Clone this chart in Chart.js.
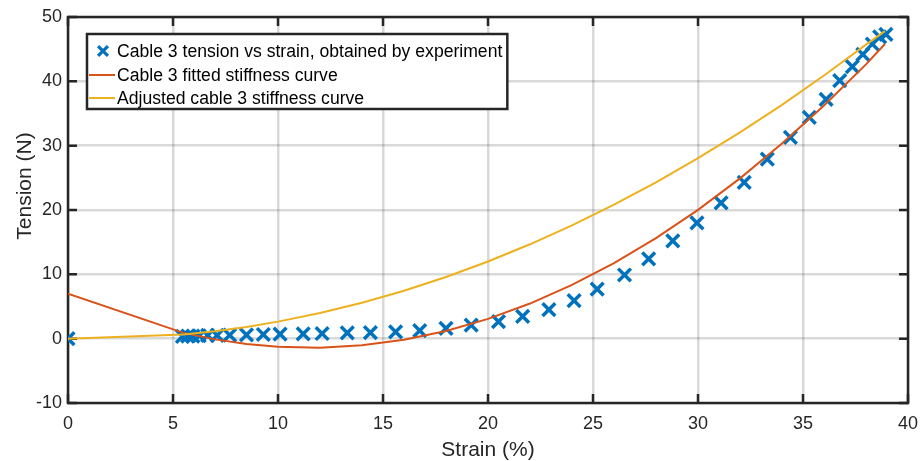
<!DOCTYPE html>
<html>
<head>
<meta charset="utf-8">
<script src="https://cdn.jsdelivr.net/npm/chart.js@4.4.1/dist/chart.umd.min.js"></script>
<style>
    html, body { margin: 0; padding: 0; background: #fff; }
    #wrap { width: 921px; height: 461px; }
</style>
</head>
<body>
<div id="wrap"><canvas id="tensionChart" width="921" height="461"></canvas></div>
<script>
// --- dados ---
const strainExp = [0, 5.45, 5.7, 5.95, 6.25, 6.65, 7.1, 7.7, 8.5, 9.3, 10.1, 11.2, 12.1, 13.3, 14.4,
    15.6, 16.75, 18.0, 19.2, 20.5, 21.65, 22.9, 24.1, 25.2, 26.5, 27.65, 28.8, 29.95, 31.1, 32.2,
    33.3, 34.4, 35.3, 36.1, 36.75, 37.35, 37.85, 38.3, 38.65, 38.95];
const tensionExp = [0, 0.35, 0.4, 0.4, 0.45, 0.5, 0.5, 0.55, 0.6, 0.65, 0.7, 0.75, 0.8, 0.9, 0.95,
    1.05, 1.25, 1.6, 2.1, 2.65, 3.45, 4.5, 5.9, 7.7, 9.9, 12.4, 15.2, 18.0, 21.1, 24.3,
    27.9, 31.3, 34.4, 37.2, 40.1, 42.3, 44.2, 45.8, 46.9, 47.3];

const strainCurve = [0, 5.5, 7, 8.5, 10, 12, 14, 16, 18, 20, 22, 24, 26, 28, 30, 32, 34, 36, 38, 38.9];
const tensionFitted = [7.0, 0.9, -0.11, -0.82, -1.26, -1.4, -1.04, -0.17, 1.2, 3.08, 5.46, 8.35,
    11.73, 15.62, 20.02, 24.92, 30.33, 36.23, 42.64, 45.8];
const tensionAdjusted = [0, 0.63, 1.15, 1.83, 2.65, 3.98, 5.59, 7.46, 9.59, 12.0, 14.67, 17.62,
    20.83, 24.3, 28.05, 32.06, 36.35, 40.9, 45.7, 47.8];

const xTicks = [0, 5, 10, 15, 20, 25, 30, 35, 40];
const yTicks = [-10, 0, 10, 20, 30, 40, 50];

const seriesLabels = [
    'Cable 3 tension vs strain, obtained by experiment',
    'Cable 3 fitted stiffness curve',
    'Adjusted cable 3 stiffness curve'
];

const corBlue = '#0072BD';
const corRed = '#D95319';
const corYellow = '#EDB120';
const corAxis = '#262626';
const fonte = "'Liberation Sans', Arial, Helvetica, sans-serif";

const toPts = (xs, ys) => xs.map((x, i) => ({ x: x, y: ys[i] }));

// moldura com ticks para dentro (estilo MATLAB)
const framePlugin = {
    id: 'frame',
    beforeDatasetsDraw(chart) {
        const { ctx, chartArea: a, scales } = chart;
        ctx.save();
        ctx.strokeStyle = corAxis;
        ctx.lineWidth = 2.5;
        ctx.strokeRect(a.left, a.top, a.right - a.left, a.bottom - a.top);
        const tl = 9;
        ctx.beginPath();
        xTicks.forEach(v => {
            const px = scales.x.getPixelForValue(v);
            ctx.moveTo(px, a.bottom); ctx.lineTo(px, a.bottom - tl);
            ctx.moveTo(px, a.top); ctx.lineTo(px, a.top + tl);
        });
        yTicks.forEach(v => {
            const py = scales.y.getPixelForValue(v);
            ctx.moveTo(a.left, py); ctx.lineTo(a.left + tl, py);
            ctx.moveTo(a.right, py); ctx.lineTo(a.right - tl, py);
        });
        ctx.stroke();
        ctx.restore();
    },
    afterDraw(chart) {
        const { ctx, chartArea: a } = chart;
        ctx.save();
        // título do eixo y
        ctx.fillStyle = corAxis;
        ctx.font = '21px ' + fonte;
        ctx.textAlign = 'center';
        ctx.textBaseline = 'middle';
        ctx.translate(25, 186);
        ctx.rotate(-Math.PI / 2);
        ctx.fillText('Tension (N)', 0, 0);
        ctx.restore();

        // legenda
        ctx.save();
        ctx.font = '17.6px ' + fonte;
        const bx = a.left + 19, by = a.top + 17;
        const textX = bx + 30;
        let maxW = 0;
        seriesLabels.forEach(t => { maxW = Math.max(maxW, ctx.measureText(t).width); });
        const bw = textX - bx + maxW + 5, bh = 75;
        ctx.fillStyle = '#fff';
        ctx.fillRect(bx, by, bw, bh);
        ctx.strokeStyle = corAxis;
        ctx.lineWidth = 2.5;
        ctx.strokeRect(bx, by, bw, bh);
        const rows = [by + 17, by + 41, by + 64];
        // linha 1: marcador
        ctx.strokeStyle = corBlue;
        ctx.lineWidth = 3.2;
        Chart.helpers.drawPoint(ctx, { pointStyle: 'crossRot', radius: 7, borderWidth: 3.2, rotation: 0 }, bx + 16, rows[0]);
        // linhas 2 e 3
        ctx.lineWidth = 2;
        [corRed, corYellow].forEach((c, i) => {
            ctx.strokeStyle = c;
            ctx.beginPath();
            ctx.moveTo(bx + 2, rows[i + 1]);
            ctx.lineTo(bx + 28, rows[i + 1]);
            ctx.stroke();
        });
        ctx.fillStyle = '#000';
        ctx.textBaseline = 'middle';
        ctx.textAlign = 'left';
        seriesLabels.forEach((t, i) => ctx.fillText(t, textX, rows[i] + 1));
        ctx.restore();
    }
};

new Chart(document.getElementById('tensionChart').getContext('2d'), {
    type: 'scatter',
    data: {
        datasets: [
            {
                label: seriesLabels[0],
                data: toPts(strainExp, tensionExp),
                pointStyle: 'crossRot',
                pointRadius: 9,
                pointBorderWidth: 3.5,
                borderColor: corBlue,
                backgroundColor: corBlue,
                showLine: false,
                order: 2
            },
            {
                label: seriesLabels[1],
                data: toPts(strainCurve, tensionFitted),
                showLine: true,
                borderColor: corRed,
                borderWidth: 2,
                pointRadius: 0,
                tension: 0,
                order: 1
            },
            {
                label: seriesLabels[2],
                data: toPts(strainCurve, tensionAdjusted),
                showLine: true,
                borderColor: corYellow,
                borderWidth: 2,
                pointRadius: 0,
                tension: 0,
                order: 0
            }
        ]
    },
    options: {
        responsive: false,
        animation: false,
        devicePixelRatio: 1,
        layout: { padding: { left: 0, right: 13, top: 17, bottom: 0 } },
        plugins: { legend: { display: false }, tooltip: { enabled: false } },
        scales: {
            x: {
                type: 'linear',
                min: 0, max: 40,
                afterFit: s => { s.height = 58; s.paddingLeft = 0; s.paddingRight = 0; },
                afterBuildTicks: s => { s.ticks = xTicks.map(v => ({ value: v })); },
                ticks: { color: corAxis, padding: 10, font: { family: fonte, size: 18 } },
                grid: { color: 'rgba(0,0,0,0.15)', lineWidth: 2.5, drawTicks: false },
                border: { display: false },
                title: {
                    display: true, text: 'Strain (%)', color: corAxis,
                    font: { family: fonte, size: 21, lineHeight: 1 }, padding: 0
                }
            },
            y: {
                type: 'linear',
                min: -10, max: 50,
                afterFit: s => { s.width = 68; s.paddingTop = 0; s.paddingBottom = 0; },
                afterBuildTicks: s => { s.ticks = yTicks.map(v => ({ value: v })); },
                ticks: { color: corAxis, padding: 6, font: { family: fonte, size: 18 } },
                grid: { color: 'rgba(0,0,0,0.15)', lineWidth: 2.5, drawTicks: false },
                border: { display: false }
            }
        }
    },
    plugins: [framePlugin]
});
</script>
</body>
</html>
